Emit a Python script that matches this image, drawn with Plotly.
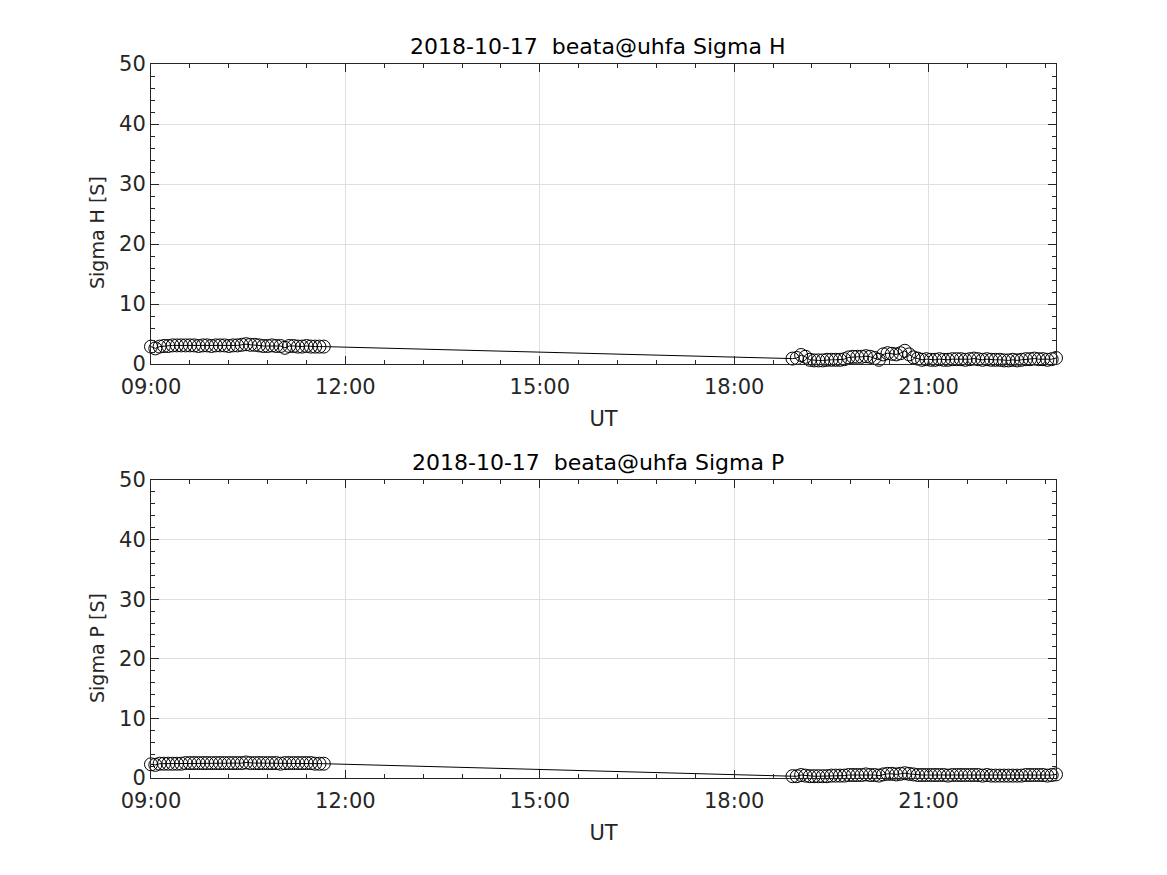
import plotly.graph_objects as go
import pandas as pd

# sampling times (4-min integrations, two observing windows)
times_seg1 = pd.date_range("2018-10-17 09:00", "2018-10-17 11:40", freq="4min")
times_seg2 = pd.date_range("2018-10-17 18:54", "2018-10-17 22:58", freq="4min")
times = list(times_seg1) + list(times_seg2)

sigma_h_seg1 = [2.9, 2.6, 2.9, 3.0, 3.0, 3.1, 3.1, 3.1, 3.1, 3.1, 3.1, 3.0, 3.1, 3.1, 3.0, 3.1,
                3.1, 3.1, 3.0, 3.1, 3.1, 3.2, 3.3, 3.2, 3.2, 3.1, 3.0, 3.0, 3.1, 3.0, 3.0, 2.7,
                3.0, 3.0, 2.9, 2.9, 3.0, 2.9, 2.9, 2.9, 2.9]
sigma_h_seg2 = [0.9, 1.0, 1.5, 1.2, 0.7, 0.6, 0.6, 0.6, 0.7, 0.7, 0.7, 0.7, 0.8, 1.1, 1.2, 1.2,
                1.2, 1.3, 1.2, 1.0, 0.7, 1.6, 1.8, 1.7, 1.6, 1.8, 2.2, 1.6, 1.1, 0.9, 0.7, 0.8,
                0.7, 0.7, 0.8, 0.7, 0.7, 0.8, 0.8, 0.8, 0.7, 0.8, 0.9, 0.8, 0.7, 0.8, 0.7, 0.7,
                0.7, 0.6, 0.6, 0.7, 0.6, 0.7, 0.8, 0.8, 0.9, 0.8, 0.8, 0.7, 0.8, 1.0]
sigma_p_seg1 = [2.3, 2.2, 2.4, 2.4, 2.4, 2.4, 2.4, 2.4, 2.5, 2.5, 2.5, 2.5, 2.5, 2.5, 2.5, 2.5,
                2.5, 2.5, 2.5, 2.5, 2.5, 2.5, 2.6, 2.5, 2.5, 2.5, 2.5, 2.5, 2.5, 2.5, 2.4, 2.5,
                2.5, 2.5, 2.5, 2.5, 2.5, 2.5, 2.4, 2.4, 2.4]
sigma_p_seg2 = [0.3, 0.3, 0.5, 0.4, 0.3, 0.3, 0.3, 0.3, 0.3, 0.4, 0.4, 0.4, 0.4, 0.5, 0.5, 0.5,
                0.5, 0.6, 0.5, 0.5, 0.4, 0.6, 0.7, 0.7, 0.6, 0.7, 0.8, 0.7, 0.6, 0.5, 0.5, 0.5,
                0.5, 0.5, 0.5, 0.5, 0.4, 0.5, 0.5, 0.5, 0.5, 0.5, 0.5, 0.5, 0.4, 0.5, 0.4, 0.4,
                0.4, 0.4, 0.4, 0.4, 0.4, 0.4, 0.5, 0.5, 0.5, 0.5, 0.5, 0.4, 0.5, 0.6]
sigma_h = sigma_h_seg1 + sigma_h_seg2
sigma_p = sigma_p_seg1 + sigma_p_seg2

titles = ["2018-10-17  beata@uhfa Sigma H", "2018-10-17  beata@uhfa Sigma P"]
ylabels = ["Sigma H [S]", "Sigma P [S]"]
xtick_vals = ["2018-10-17 09:00", "2018-10-17 12:00", "2018-10-17 15:00",
              "2018-10-17 18:00", "2018-10-17 21:00"]
xtick_text = ["09:00", "12:00", "15:00", "18:00", "21:00"]
ytick_vals = [0, 10, 20, 30, 40, 50]

W, H = 1167, 875
OFF = 8  # page offset of the figure in the window
FONT = "DejaVu Sans"
TXT = "#262626"

fig = go.Figure()
marker = dict(symbol="circle-open", size=13, color="black", line=dict(width=1, color="black"))
for i, ys in enumerate([sigma_h, sigma_p]):
    fig.add_trace(go.Scatter(x=times, y=ys, mode="lines+markers",
                             line=dict(color="black", width=1), marker=marker,
                             xaxis="x" if i == 0 else "x2", yaxis="y" if i == 0 else "y2",
                             showlegend=False, cliponaxis=False))

xdom = [(151 - OFF) / W, (1056 - OFF) / W]
ydoms = [[1 - (364 - OFF) / H, 1 - (64 - OFF) / H], [1 - (778 - OFF) / H, 1 - (480 - OFF) / H]]

def xaxis(anchor):
    return dict(domain=xdom, anchor=anchor, type="date", automargin=False,
                range=["2018-10-17 09:00", "2018-10-17 22:58"],
                tickvals=xtick_vals, ticktext=xtick_text,
                ticks="inside", ticklen=8, tickcolor=TXT, tickwidth=1,
                showline=True, linecolor=TXT, linewidth=1, mirror="ticks",
                showgrid=True, gridcolor="#dfdfdf", gridwidth=1,
                minor=dict(ticks="inside", ticklen=4, tickcolor=TXT,
                           dtick=36 * 60 * 1000, tick0="2018-10-17 09:00", showgrid=False),
                zeroline=False, ticklabelstandoff=4,
                tickfont=dict(size=21, color=TXT, family=FONT),
                title=dict(text="UT", font=dict(size=21, color=TXT, family=FONT), standoff=13))

def yaxis(anchor, dom):
    return dict(domain=dom, anchor=anchor, range=[0, 50], tickvals=ytick_vals, automargin=False,
                ticks="inside", ticklen=8, tickcolor=TXT, tickwidth=1,
                showline=True, linecolor=TXT, linewidth=1, mirror="ticks",
                showgrid=True, gridcolor="#dfdfdf", gridwidth=1,
                minor=dict(ticks="inside", ticklen=4, tickcolor=TXT, dtick=2, showgrid=False),
                zeroline=False, ticklabelstandoff=0,
                tickfont=dict(size=21, color=TXT, family=FONT))

annotations = []
ylabel_centers = [233, 648]
for i, t in enumerate(titles):
    annotations.append(dict(text=t, x=(xdom[0] + xdom[1]) / 2, y=ydoms[i][1],
                            xref="paper", yref="paper", xanchor="center", yanchor="bottom",
                            yshift=3, xshift=-6, showarrow=False,
                            font=dict(size=22, color="black", family=FONT)))
    annotations.append(dict(text=ylabels[i], x=(97 - OFF) / W, y=1 - (ylabel_centers[i] - OFF) / H,
                            xref="paper", yref="paper", xanchor="center", yanchor="middle",
                            textangle=-90, showarrow=False,
                            font=dict(size=19, color=TXT, family=FONT)))

fig.update_layout(
    width=W, height=H, margin=dict(l=0, r=0, t=0, b=0, autoexpand=False),
    paper_bgcolor="white", plot_bgcolor="white",
    xaxis=xaxis("y"), yaxis=yaxis("x", ydoms[0]),
    xaxis2=xaxis("y2"), yaxis2=yaxis("x2", ydoms[1]),
    annotations=annotations, font=dict(family=FONT),
)
fig.write_html("out.html")
